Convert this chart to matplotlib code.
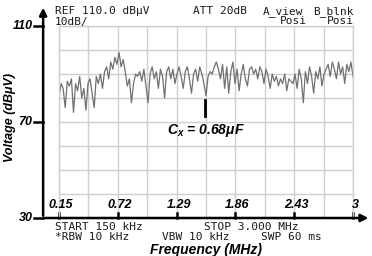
import numpy as np
import matplotlib
matplotlib.use("Agg")
import matplotlib.pyplot as plt

plt.rcParams['mathtext.fontset'] = 'custom'
plt.rcParams['mathtext.it'] = 'Liberation Sans:italic:bold'
plt.rcParams['mathtext.rm'] = 'Liberation Sans:bold'

# sweep 0.15 .. 3 MHz, trace (dBuV)
f_start, f_stop = 0.15, 3.0
trace = [80, 86, 84, 76, 87, 85, 88, 74, 86, 83, 89, 80, 84, 75, 86, 88, 82, 76,
         89, 86, 90, 84, 91, 93, 88, 95, 92, 97, 94, 99, 93, 96, 91, 85, 88, 78,
         86, 90, 89, 91, 87, 92, 85, 78, 90, 93, 88, 91, 84, 92, 89, 80, 91, 93,
         88, 92, 86, 90, 93, 89, 84, 91, 93, 88, 82, 90, 92, 87, 93, 90, 86, 81, 89, 91,
         90, 93, 95, 92, 88, 94, 84, 93, 82, 91, 95, 86, 92, 83, 90, 94, 88, 85, 92,
         93, 90, 92, 88, 93, 91, 86, 92, 89, 84, 90, 87, 89, 85, 88, 86, 90, 83, 88, 87,
         86, 90, 84, 92, 88, 78, 91, 86, 93, 89, 82, 91, 88, 93, 85, 90, 92, 94, 89, 95,
         92, 88, 95, 90, 93, 86, 94, 91, 95, 89]
xticks = [0.15, 0.72, 1.29, 1.86, 2.43, 3.0]
xtick_labels = ['0.15', '0.72', '1.29', '1.86', '2.43', '3']
yticks = [110, 70, 30]
marker_f = 1.565
marker_db = [79, 72.5]

W, H = 372, 256
fig = plt.figure(figsize=(W / 100, H / 100), dpi=100)
ax = fig.add_axes([59 / W, 38 / H, 294 / W, 192 / H])
ax.set_xlim(f_start, f_stop)
ax.set_ylim(30, 110)

gcol = '#cfcfcf'
ax.set_xticks(np.linspace(f_start, f_stop, 11))
ax.set_yticks(np.arange(30, 111, 10))
ax.tick_params(length=0, labelbottom=False, labelleft=False)
ax.grid(True, color=gcol, lw=1.0)
for s in ax.spines.values():
    s.set_color(gcol)
    s.set_linewidth(1.0)

fx = np.linspace(f_start, f_stop, len(trace))
ax.plot(fx, trace, color='#707070', lw=0.9)

bi = dict(family='Liberation Sans', fontweight='bold', fontstyle='italic')

# black axes with arrows
ax.annotate('', xy=(-0.054, 1.11), xytext=(-0.054, -0.003), xycoords='axes fraction',
            arrowprops=dict(arrowstyle='-|>', lw=1.8, color='k', mutation_scale=11))
ax.annotate('', xy=(1.062, 0.0), xytext=(-0.058, 0.0), xycoords='axes fraction',
            arrowprops=dict(arrowstyle='-|>', lw=1.8, color='k', mutation_scale=11))

ytr = ax.get_yaxis_transform()
for v in yticks:
    ax.plot([-0.085, -0.054], [v, v], color='k', lw=1.8, transform=ytr, clip_on=False)
    ax.text(-0.09, v, str(v), transform=ytr, ha='right', va='center', fontsize=9, **bi)

xtr = ax.get_xaxis_transform()
for v, lab in zip(xticks, xtick_labels):
    ax.plot([v, v], [0, 0.025], color='k', lw=1.8, transform=xtr, clip_on=False)
    ax.text(v + 0.02, 0.066, lab, transform=xtr, ha='center', va='center', fontsize=9, **bi)

ax.plot([marker_f, marker_f], marker_db, color='k', lw=2)
ax.text(marker_f + 0.01, 66.6, r'$C_x$ = 0.68μF', ha='center', va='center', fontsize=10, **bi)

mono = dict(family='DejaVu Sans Mono', fontsize=8, color='#1a1a1a', va='center')
def ft(x, y, s, ha='left'):
    fig.text(x / W, 1 - y / H, s, ha=ha, **mono)

ft(55, 11.5, 'REF 110.0 dBμV')
ft(55, 21.5, '10dB/')
ft(193, 11.5, 'ATT 20dB')
ft(263, 11.5, 'A_view')
ft(354, 11.5, 'B_blnk', ha='right')
ft(307, 21.5, 'Posi', ha='right')
ft(354, 21.5, 'Posi', ha='right')
ft(55, 227, 'START 150 kHz')
ft(55, 237.5, '*RBW 10 kHz')
ft(204, 227, 'STOP 3.000 MHz')
ft(162, 237.5, 'VBW 10 kHz')
ft(261, 237.5, 'SWP 60 ms')

fig.text(206 / W, 1 - 250 / H, 'Frequency (MHz)', ha='center', va='center', fontsize=10, **bi)
fig.text(10 / W, 1 - 118 / H, 'Voltage (dBμV)', ha='center', va='center', rotation=90,
         fontsize=9, **bi)

fig.savefig('out.png', dpi=100)
